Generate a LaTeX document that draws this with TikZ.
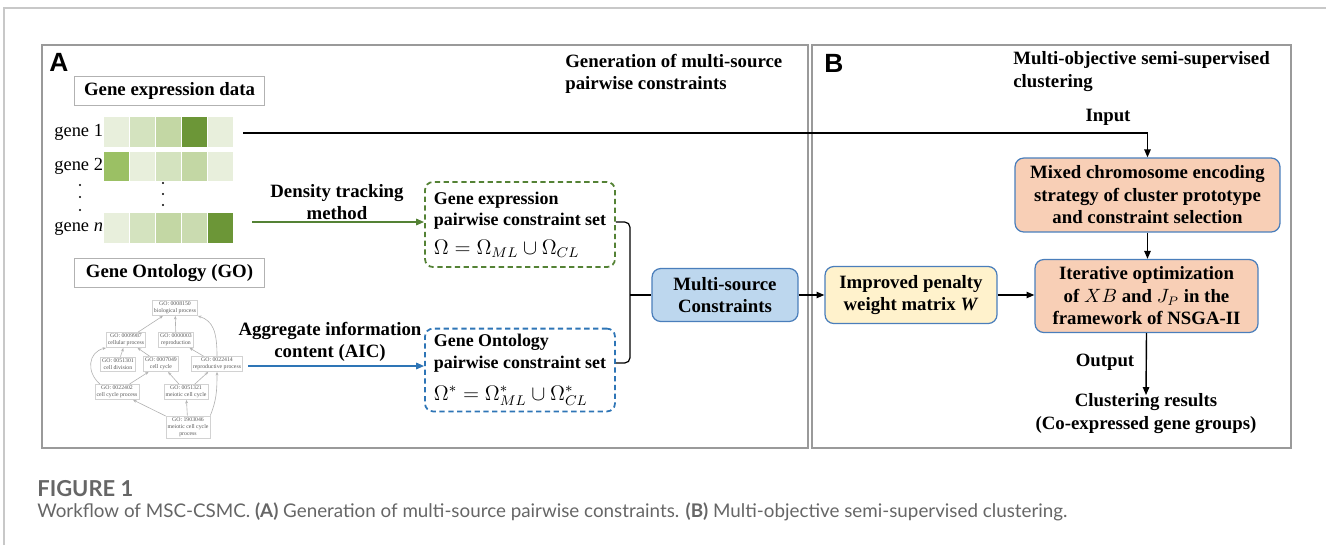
\documentclass[tikz,border=0pt]{standalone}
\usepackage{fontspec}
\setmainfont{Liberation Serif}
\newfontfamily\capfont{Lato}
\newfontfamily\panelfont{Liberation Sans}
\usetikzlibrary{arrows.meta}

\definecolor{framegray}{HTML}{C8C8C8}
\definecolor{panelgray}{HTML}{9A9A9A}
\definecolor{exgreen}{HTML}{548235}
\definecolor{goblue}{HTML}{2E75B6}
\definecolor{boxedge}{HTML}{4A7EBB}
\definecolor{mscfill}{HTML}{BDD7EE}
\definecolor{ipwfill}{HTML}{FFF2CC}
\definecolor{nsgafill}{HTML}{F8CFB6}
\definecolor{hlight}{HTML}{E8EFDC}
\definecolor{hpale}{HTML}{D4E3BF}
\definecolor{hmid}{HTML}{C3D7A4}
\definecolor{hmix}{HTML}{CADBB0}
\definecolor{hgreen}{HTML}{9BC064}
\definecolor{hdark}{HTML}{6C9637}
\definecolor{capgray}{HTML}{666666}

\begin{document}
\begin{tikzpicture}[x=0.02cm,y=-0.02cm,
  bold/.style={font=\bfseries\fontsize{10.7}{12.8}\selectfont,align=center,inner sep=0},
  plain/.style={font=\fontsize{10.5}{12.5}\selectfont,inner sep=0,anchor=west},
  headbox/.style={draw=gray!60,line width=0.6pt,font=\bfseries\fontsize{10.7}{12.8}\selectfont,minimum width=3.8cm,minimum height=0.58cm,inner sep=0},
  setbox/.style={rounded corners=4.5pt,line width=1pt,dash pattern=on 3pt off 2pt,align=left,minimum width=3.8cm,inner xsep=0.1cm,font=\bfseries\fontsize{10.2}{12.2}\selectfont},
  stepbox/.style={draw=boxedge,rounded corners=5pt,line width=0.7pt,font=\bfseries\fontsize{10.7}{12.8}\selectfont,align=center},
  gonode/.style={draw=gray!35,line width=0.3pt,font=\fontsize{3.3}{4}\selectfont,align=center,inner sep=0.9pt,text=gray!70!black},
  goarrow/.style={draw=gray!60,line width=0.35pt,-{Stealth[length=2pt,width=1.6pt]}},
  flow/.style={line width=0.8pt,-{Triangle[length=4.5pt,width=3.6pt]}}]
\useasboundingbox (0,0) rectangle (1326,545);

% page frame and the two panels
\draw[framegray,line width=0.6pt] (4,545) -- (4,8) -- (1326,8);
\draw[panelgray,line width=0.8pt] (42,45) rectangle (808,448);
\draw[panelgray,line width=0.8pt] (812,45) rectangle (1291,448);
\node[font=\panelfont\bfseries\fontsize{15}{15}\selectfont,inner sep=0] (pa) at (59,62) {A};
\node[font=\panelfont\bfseries\fontsize{15}{15}\selectfont,inner sep=0] (pb) at (834,63) {B};
\node[bold,align=left,anchor=west] (titleA) at (565,74) {Generation of multi-source\\pairwise constraints};
\node[bold,align=left,anchor=west] (titleB) at (1013,71.5) {Multi-objective semi-supervised\\clustering};

% gene expression data
\node[headbox] (gexp) at (169.5,91) {Gene expression data};
\node[plain] (gene1) at (54,132) {gene 1};
\node[plain] (gene2) at (54,166) {gene 2};
\node[plain] (genen) at (54,229) {gene \textit{n}};
\foreach \col [count=\i from 0] in {hlight,hpale,hmid,hdark,hlight}
  \fill[\col] (104+\i*26,117) rectangle ++(25,30);
\foreach \col [count=\i from 0] in {hgreen,hlight,hpale,hmid,hlight}
  \fill[\col] (104+\i*26,152) rectangle ++(25,29);
\foreach \col [count=\i from 0] in {hlight,hpale,hmid,hmix,hdark}
  \fill[\col] (104+\i*26,213) rectangle ++(25,30);
\foreach \y in {185,197,210} \fill (80,\y) circle (0.7pt);
\foreach \y in {183,194,205} \fill (163,\y) circle (0.7pt);
\coordinate (g1) at (243,133);
\coordinate (gn) at (252,222);

% gene ontology
\node[headbox] (gont) at (169.5,273) {Gene Ontology (GO)};
\node[gonode] (bp) at (175,308) {GO: 0008150\\biological process};
\node[gonode] (cp) at (126,340) {GO: 0009987\\cellular process};
\node[gonode] (rep) at (176,340) {GO: 0000003\\reproduction};
\node[gonode] (cd) at (118,364) {GO: 0051301\\cell division};
\node[gonode] (cc) at (161,364) {GO: 0007049\\cell cycle};
\node[gonode] (rpp) at (217,364) {GO: 0022414\\reproductive process};
\node[gonode] (ccp) at (117,392) {GO: 0022402\\cell cycle process};
\node[gonode] (mcc) at (186,392) {GO: 0051321\\meiotic cell cycle};
\node[gonode] (mp) at (188,427) {GO: 1903046\\meiotic cell cycle\\process};
\draw[goarrow] (cp) -- (bp);
\draw[goarrow] (rep) -- (bp);
\draw[goarrow] (rpp.north) .. controls +(0,-25) and +(15,5) .. (bp.south east);
\draw[goarrow] (cd) -- (cp);
\draw[goarrow] (cc) -- (cp);
\draw[goarrow] (rpp) -- (rep);
\draw[goarrow] ([xshift=3pt]ccp.north west) .. controls (86,372) and (88,352) .. (cp.south west);
\draw[goarrow] (ccp) -- (cc);
\draw[goarrow] (mcc) -- (cc);
\draw[goarrow] (mcc) -- (rpp);
\draw[goarrow] (mp) -- (ccp);
\draw[goarrow] (mp) -- (mcc);
\draw[goarrow] (mp.north east) .. controls +(6,-15) and +(0,20) .. (rpp.south);
\coordinate (go) at (248,366);

% constraint sets
\node[setbox,draw=exgreen,minimum height=1.7cm] (gcs) at (520,224.5) {Gene expression\\pairwise constraint set\\[4pt]{\mdseries\fontsize{12}{14}\selectfont $\Omega=\Omega_{ML}\cup\Omega_{CL}$}};
\node[setbox,draw=goblue,minimum height=1.54cm] (ocs) at (520,370) {Gene Ontology\\pairwise constraint set\\[6pt]{\mdseries\fontsize{12}{14}\selectfont $\Omega^{*}=\Omega^{*}_{ML}\cup\Omega^{*}_{CL}$}};
\draw[flow,exgreen,line width=1pt] (gn) -- (gn -| gcs.west);
\draw[flow,goblue,line width=1pt] (go) -- (go -| ocs.west);
\node[bold] (dtm) at (337,202) {Density tracking\\method};
\node[bold] (aic) at (330,342) {Aggregate information\\content (AIC)};

\node[stepbox,fill=mscfill,minimum width=2.92cm,minimum height=1.06cm] (msc) at (725,295) {Multi-source\\Constraints};
\draw[line width=0.7pt,rounded corners=3pt] (gcs.east |- 0,222) -- (630,222) -- (630,363) -- (ocs.east |- 0,363);
\draw[line width=0.7pt] (630,295) -- (msc.west);

% clustering part
\node[stepbox,fill=ipwfill,minimum width=3.44cm,minimum height=1.14cm] (ipw) at (911,295) {Improved penalty\\weight matrix \textit{W}};
\node[stepbox,fill=nsgafill,minimum width=5.3cm,minimum height=1.48cm] (mix) at (1147.5,195) {Mixed chromosome encoding\\strategy of cluster prototype\\and constraint selection};
\node[stepbox,fill=nsgafill,minimum width=4.46cm,minimum height=1.46cm] (iter) at (1146.5,296) {Iterative optimization\\of $XB$ and $J_P$ in the\\framework of NSGA-II};
\node[bold] (res) at (1146,413.5) {Clustering results\\(Co-expressed gene groups)};
\node[bold] (inp) at (1108,117) {Input};
\node[bold] (outp) at (1105,362) {Output};

\draw[flow] (g1) -| (mix.north);
\draw[flow] (msc.east) -- (ipw.west);
\draw[flow] (ipw.east) -- (ipw.east -| iter.west);
\draw[flow] (mix) -- (mix.south |- iter.north);
\draw[flow] (iter.south) -- ([yshift=-1pt]res.north);

% caption
\node[font=\capfont\bfseries\fontsize{12.5}{14}\selectfont,text=capgray,anchor=west,inner sep=0] (fig) at (37,489) {FIGURE 1};
\node[font=\capfont\fontsize{10.7}{12.5}\selectfont,text=capgray,anchor=west,inner sep=0] (cap) at (37,512) {Workflow of MSC-CSMC. \textbf{(A)} Generation of multi-source pairwise constraints. \textbf{(B)} Multi-objective semi-supervised clustering.};
\end{tikzpicture}
\end{document}
